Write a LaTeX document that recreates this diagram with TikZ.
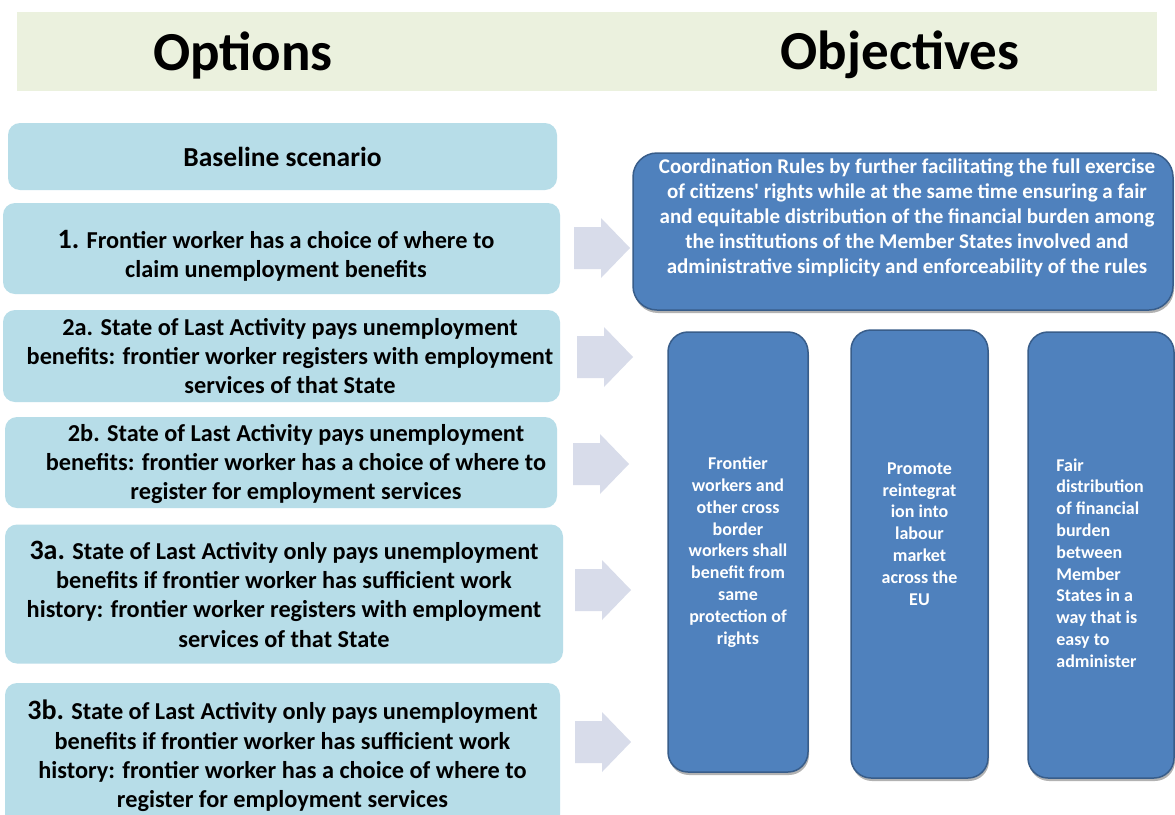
\documentclass[tikz,border=0pt]{standalone}
\usepackage{fontspec}
\setmainfont{Carlito}[Ligatures=TeXOff]
\usetikzlibrary{shadows}
\definecolor{hdrc}{HTML}{EBF1DE}
\definecolor{lblue}{HTML}{B7DDE8}
\definecolor{dblue}{HTML}{4F81BD}
\definecolor{dborder}{HTML}{385D8A}
\definecolor{arrc}{HTML}{D8DCEA}
\newcommand{\myHdrFont}{\fontsize{55}{62}\selectfont\bfseries}
\newcommand{\myOptFont}{\fontsize{24.3}{29.3}\selectfont\bfseries}
\newcommand{\myBaseFont}{\fontsize{27.5}{29.3}\selectfont\bfseries}
\newcommand{\myBigNum}{\fontsize{28}{29.3}\selectfont\bfseries}
\newcommand{\myTopFont}{\fontsize{21}{25}\selectfont\bfseries}
\newcommand{\mySmFont}{\fontsize{18}{21.8}\selectfont\bfseries}
\begin{document}
\begin{tikzpicture}[x=1pt,y=-1pt,
  optbox/.style={fill=lblue, rounded corners=12pt, inner sep=0pt, align=center, font=\myOptFont, text=black},
  opttext/.style={font=\myOptFont, align=center, inner sep=0pt, text=black},
  objbox/.style={fill=dblue, draw=dborder, line width=1.5pt, rounded corners=20pt, inner sep=0pt,
     drop shadow={shadow xshift=1pt, shadow yshift=-3pt, opacity=0.3, fill=black}},
  objtext/.style={text=white, inner sep=0pt},
  blockarrow/.pic={\fill[arrc] (0,-21) -- (27,-21) -- (27,-30) -- (56,0) -- (27,30) -- (27,21) -- (0,21) -- cycle;}
]
\clip (0,0) rectangle (1175,814);
\fill[white] (0,0) rectangle (1175,814);

% header
\node[fill=hdrc, minimum width=1140pt, minimum height=79pt, inner sep=0pt] (hdr) at (587,51.5) {};
\node[font=\myHdrFont, inner sep=0pt] (opt) at (243,55) {Options};
\node[font=\myHdrFont, inner sep=0pt] (obj) at (900,55) {Objectives};

% option boxes
\node[optbox, font=\myBaseFont, minimum width=549pt, minimum height=67pt] (base) at (282.5,156.5) {Baseline scenario};
\node[optbox, minimum width=557pt, minimum height=91pt] (o1) at (281.5,248.5) {};
\node[opttext] (o1t) at (276,256) {{\myBigNum 1.} Frontier worker has a choice of where to\\claim unemployment benefits};
\node[optbox, minimum width=557pt, minimum height=92pt] (o2a) at (281.5,356) {};
\node[opttext] (o2at) at (290,356) {2a. State of Last Activity pays unemployment\\benefits: frontier worker registers with employment\\services of that State};
\node[optbox, minimum width=552pt, minimum height=91pt] (o2b) at (281,462.5) {};
\node[opttext] (o2bt) at (296,464) {2b. State of Last Activity pays unemployment\\benefits: frontier worker has a choice of where to\\register for employment services};
\node[optbox, minimum width=558pt, minimum height=139pt] (o3a) at (284,594) {{\myBigNum 3a.} State of Last Activity only pays unemployment\\benefits if frontier worker has sufficient work\\history: frontier worker registers with employment\\services of that State};
\node[optbox, minimum width=555pt, minimum height=146pt] (o3b) at (282.5,756) {{\myBigNum 3b.} State of Last Activity only pays unemployment\\benefits if frontier worker has sufficient work\\history: frontier worker has a choice of where to\\register for employment services};

% block arrows
\pic (a1) at (574,248) {blockarrow};
\pic (a2) at (577,357) {blockarrow};
\pic (a3) at (573,464) {blockarrow};
\pic (a4) at (575,590) {blockarrow};
\pic (a5) at (575,742) {blockarrow};

% objective boxes
\node[objbox, minimum width=540pt, minimum height=157pt, rounded corners=24pt] (top) at (903,231.5) {};
\node[objtext, font=\myTopFont, align=center] (topt) at (907,218) {Coordination Rules by further facilitating the full exercise\\of citizens' rights while at the same time ensuring a fair\\and equitable distribution of the financial burden among\\the institutions of the Member States involved and\\administrative simplicity and enforceability of the rules};

\node[objbox, minimum width=140pt, minimum height=440pt] (oa) at (738,552) {};
\node[objtext, font=\mySmFont, align=center] (oat) at (738,552) {Frontier\\workers and\\other cross\\border\\workers shall\\benefit from\\same\\protection of\\rights};
\node[objbox, minimum width=137pt, minimum height=448pt] (ob) at (919.5,554) {};
\node[objtext, font=\mySmFont, align=center] (obt) at (919.5,534) {Promote\\reintegrat\\ion into\\labour\\market\\across the\\EU};
\node[objbox, minimum width=146pt, minimum height=446pt] (oc) at (1101,555) {};
\node[objtext, font=\mySmFont, align=left] (oct) at (1100,563) {Fair\\distribution\\of financial\\burden\\between\\Member\\States in a\\way that is\\easy to\\administer};
\end{tikzpicture}
\end{document}
